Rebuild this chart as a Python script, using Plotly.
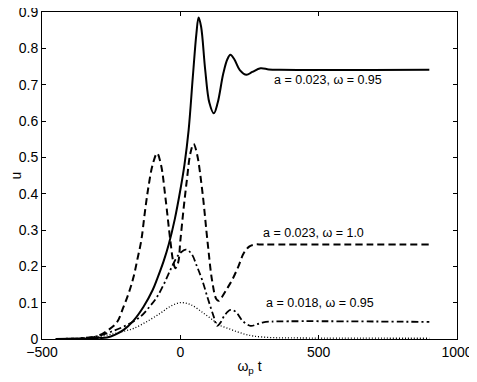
import plotly.graph_objects as go

# a = 0.023, w = 0.95 (solid)
x_solid = [-450, -400, -350, -300, -265, -235, -205, -170, -133, -100, -84, -60, -42, -20, 0, 15, 30, 45,
           58, 66, 75, 90, 105, 121, 135, 155, 170, 181, 195, 215, 239, 260, 290, 320, 360, 900]
u_solid = [0, 0.0005, 0.001, 0.003, 0.004, 0.012, 0.025, 0.05, 0.089, 0.135, 0.165, 0.215, 0.26, 0.33, 0.41,
           0.48, 0.575, 0.72, 0.84, 0.885, 0.86, 0.74, 0.65, 0.621, 0.65, 0.73, 0.77, 0.782, 0.77, 0.74,
           0.727, 0.735, 0.745, 0.742, 0.741, 0.741]

# a = 0.023, w = 1.0 (dashed)
x_dash = [-450, -350, -300, -260, -230, -205, -185, -169, -155, -141, -128, -115, -100, -84, -70, -54, -36,
          -25, -18, -8, 0, 12, 24, 36, 48, 60, 79, 99, 115, 130, 139, 150, 170, 187, 210, 229, 250, 270, 300, 900]
u_dash = [0, 0.002, 0.008, 0.025, 0.045, 0.089, 0.13, 0.171, 0.22, 0.272, 0.35, 0.42, 0.48, 0.511, 0.48,
          0.39, 0.27, 0.21, 0.195, 0.21, 0.27, 0.36, 0.44, 0.51, 0.537, 0.51, 0.41, 0.263, 0.16, 0.11, 0.105,
          0.115, 0.14, 0.162, 0.2, 0.236, 0.255, 0.26, 0.26, 0.26]

# a = 0.018, w = 0.95 (dash-dot)
x_dd = [-450, -350, -300, -250, -200, -145, -110, -84, -60, -36, -15, 0, 20, 40, 60, 79, 100, 121, 133,
        145, 160, 181, 200, 225, 254, 275, 300, 330, 900]
u_dd = [0, 0.003, 0.008, 0.02, 0.036, 0.061, 0.09, 0.116, 0.15, 0.19, 0.222, 0.237, 0.246, 0.235, 0.2,
        0.162, 0.11, 0.061, 0.036, 0.045, 0.065, 0.08, 0.075, 0.05, 0.036, 0.04, 0.046, 0.048, 0.047]

# dotted
x_dot = [-450, -350, -300, -250, -200, -169, -121, -72, -36, 0, 36, 84, 121, 139, 170, 205, 235, 265, 326,
         400, 900]
u_dot = [0, 0.002, 0.006, 0.013, 0.022, 0.029, 0.048, 0.071, 0.09, 0.1, 0.095, 0.071, 0.05, 0.039, 0.03,
         0.02, 0.013, 0.008, 0.004, 0.003, 0.002]

labels = ["a = 0.023, \u03c9 = 0.95", "a = 0.023, \u03c9 = 1.0", "a = 0.018, \u03c9 = 0.95"]
label_x = [332, 290, 304]
label_y = [0.713, 0.291, 0.098]

font = "Liberation Sans, Arial"

fig = go.Figure()
fig.add_trace(go.Scatter(x=x_dot, y=u_dot, mode="lines", line_shape="spline",
                         line=dict(color="black", width=1.3, dash="1px,2px")))
fig.add_trace(go.Scatter(x=x_dd, y=u_dd, mode="lines", line_shape="spline",
                         line=dict(color="black", width=1.8, dash="7px,3px,2px,3px")))
fig.add_trace(go.Scatter(x=x_dash, y=u_dash, mode="lines", line_shape="spline",
                         line=dict(color="black", width=2, dash="7px,4px")))
fig.add_trace(go.Scatter(x=x_solid, y=u_solid, mode="lines", line_shape="spline",
                         line=dict(color="black", width=2)))

for t, lx, ly in zip(labels, label_x, label_y):
    fig.add_annotation(x=lx, y=ly, text=t, showarrow=False, xanchor="left", yanchor="middle",
                       font=dict(family=font, size=12.5, color="black"))

axis_style = dict(showgrid=False, zeroline=False, showline=True, linecolor="black", linewidth=1,
                  mirror="ticks", ticks="inside", ticklen=4, tickcolor="black", automargin=False,
                  ticklabeloverflow="allow",
                  tickfont=dict(family=font, size=14, color="black"))

fig.update_xaxes(range=[-500, 1000], tickvals=[-500, 0, 500, 1000],
                 ticktext=["\u2212500", "0", "500", "1000"],
                 title=dict(text="\u03c9<sub>p</sub> t", standoff=2,
                            font=dict(family=font, size=14, color="black")),
                 **axis_style)
fig.update_yaxes(range=[0, 0.9], tickvals=[0, 0.1, 0.2, 0.3, 0.4, 0.5, 0.6, 0.7, 0.8, 0.9],
                 ticktext=["0", "0.1", "0.2", "0.3", "0.4", "0.5", "0.6", "0.7", "0.8", "0.9"],
                 title=dict(text="u", standoff=2,
                            font=dict(family=font, size=14, color="black")),
                 **axis_style)

# page body adds an 8px offset, so the figure is sized to fit the window
fig.update_layout(width=469, height=374, showlegend=False,
                  margin=dict(l=34, r=20, t=4, b=43),
                  plot_bgcolor="white", paper_bgcolor="white")

fig.write_html("out.html")
